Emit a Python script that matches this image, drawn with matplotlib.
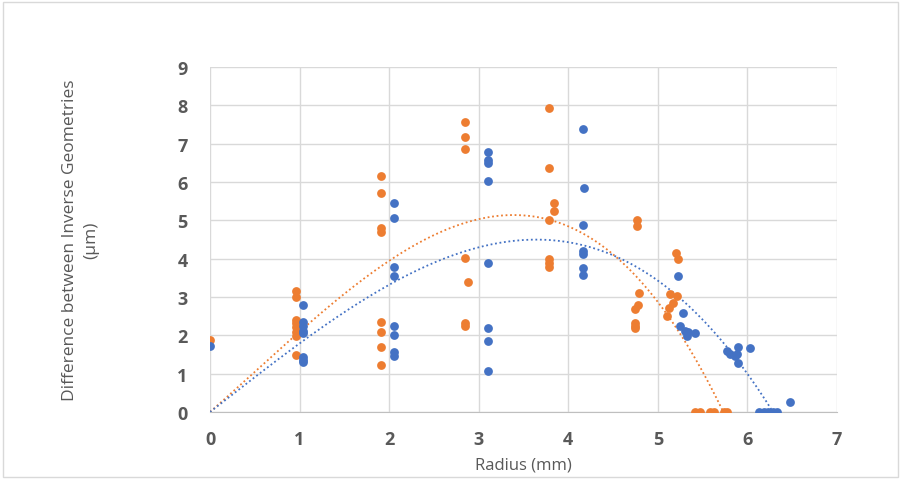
import numpy as np
import matplotlib
matplotlib.use("Agg")
import matplotlib.pyplot as plt
from matplotlib.patches import Rectangle

# series 1 (blue)
blue_r = [0.0, 1.04, 1.04, 1.04, 1.04, 1.04, 1.04, 1.04, 1.04,
          2.05, 2.05, 2.05, 2.05, 2.05, 2.05, 2.05, 2.05,
          3.10, 3.10, 3.10, 3.10, 3.10, 3.10, 3.10, 3.10,
          4.16, 4.17, 4.16, 4.16, 4.16, 4.16, 4.16,
          5.23, 5.28, 5.25, 5.30, 5.32, 5.41, 5.34,
          5.77, 5.81, 5.86, 5.90, 5.89, 6.03, 5.88, 6.48,
          6.13, 6.18, 6.23, 6.28, 6.33]
blue_d = [1.73, 2.80, 2.34, 2.25, 2.12, 2.05, 1.43, 1.36, 1.30,
          5.45, 5.05, 3.79, 3.56, 2.25, 2.01, 1.56, 1.47,
          6.79, 6.57, 6.49, 6.03, 3.90, 2.19, 1.85, 1.06,
          7.37, 5.84, 4.89, 4.21, 4.12, 3.75, 3.57,
          3.56, 2.57, 2.25, 2.12, 1.99, 2.05, 2.08,
          1.60, 1.51, 1.47, 1.69, 1.28, 1.66, 1.52, 0.25,
          0.0, 0.0, 0.0, 0.0, 0.0]

# series 2 (orange)
orange_r = [0.0, 0.965, 0.965, 0.965, 0.965, 0.965, 0.965, 0.965, 0.965,
            1.905, 1.905, 1.905, 1.905, 1.905, 1.905, 1.905, 1.905,
            2.85, 2.85, 2.85, 2.85, 2.88, 2.85, 2.85,
            3.79, 3.79, 3.84, 3.84, 3.79, 3.79, 3.79, 3.79,
            4.77, 4.77, 4.79, 4.78, 4.75, 4.75, 4.74, 4.75,
            5.20, 5.23, 5.13, 5.21, 5.17, 5.12, 5.10,
            5.42, 5.47, 5.58, 5.63, 5.74, 5.77]
orange_d = [1.88, 3.15, 2.99, 2.41, 2.32, 2.21, 2.10, 1.98, 1.49,
            6.15, 5.72, 4.79, 4.69, 2.36, 2.08, 1.69, 1.23,
            7.56, 7.17, 6.86, 4.01, 3.38, 2.32, 2.24,
            7.93, 6.36, 5.45, 5.24, 5.01, 3.99, 3.89, 3.78,
            5.02, 4.86, 3.10, 2.79, 2.69, 2.31, 2.25, 2.18,
            4.15, 3.99, 3.08, 3.02, 2.84, 2.71, 2.51,
            0.0, 0.0, 0.0, 0.0, 0.0, 0.0]

BLUE = "#4472C4"
ORANGE = "#ED7D31"
GREY = "#595959"


def trend(r, d, deg=3):
    # polynomial trendline forced through the origin
    r = np.asarray(r)
    d = np.asarray(d)
    A = np.column_stack([r ** k for k in range(1, deg + 1)])
    coef, *_ = np.linalg.lstsq(A, d, rcond=None)
    xs = np.linspace(0, r.max(), 300)
    ys = sum(c * xs ** (k + 1) for k, c in enumerate(coef))
    return xs, ys


fig = plt.figure(figsize=(9.01, 4.81), dpi=100)
fig.patches.append(Rectangle((3 / 901, 3 / 481), 895 / 901, 475 / 481,
                             transform=fig.transFigure, fill=False,
                             edgecolor="#D9D9D9", linewidth=1))
ax = fig.add_axes([210 / 901, 68 / 481, 627 / 901, 345 / 481])

ax.scatter(orange_r, orange_d, s=40, color=ORANGE, zorder=3, linewidths=0)
ax.scatter(blue_r, blue_d, s=40, color=BLUE, zorder=3, linewidths=0)

xs, ys = trend(orange_r, orange_d)
ax.plot(xs, ys, color=ORANGE, linestyle=(0, (1, 1.5)), linewidth=1.3, zorder=2)
xs, ys = trend(blue_r, blue_d)
ax.plot(xs, ys, color=BLUE, linestyle=(0, (1, 1.5)), linewidth=1.3, zorder=2)

ax.set_xlim(0, 7)
ax.set_ylim(0, 9)
ax.set_xticks(range(0, 8))
ax.set_yticks(range(0, 10))
ax.grid(True, color="#D9D9D9", linewidth=1, zorder=0)
ax.set_axisbelow(True)
for s in ["top", "right", "left"]:
    ax.spines[s].set_visible(False)
ax.spines["bottom"].set_color("#BFBFBF")
ax.tick_params(axis="x", length=0, pad=13, labelsize=13, labelcolor=GREY)
ax.tick_params(axis="y", length=0, pad=16, labelsize=13, labelcolor=GREY)
for lab in ax.get_xticklabels() + ax.get_yticklabels():
    lab.set_fontweight("bold")
    lab.set_family("Open Sans")

ax.set_xlabel("Radius (mm)", fontsize=12, color=GREY, family="Open Sans", labelpad=6)
ax.set_ylabel("Difference between Inverse Geometries\n(μm)", fontsize=12.5,
              color=GREY, family="Open Sans", labelpad=56, linespacing=1.5)

fig.savefig("out.png", dpi=100)
